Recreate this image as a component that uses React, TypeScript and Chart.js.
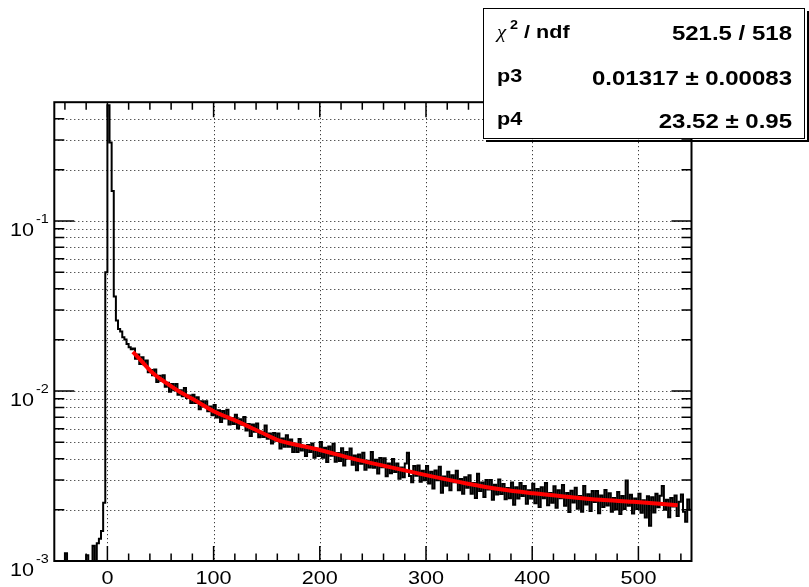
import React, { useEffect, useRef } from "react";
import { Chart, registerables } from "chart.js";

Chart.register(...registerables);

// ---- axis ranges ----
const X_MIN = -50;
const X_MAX = 550;
const Y_MIN = 0.001;
const Y_MAX = 0.5;
const HIST_START = -50;
const BIN_WIDTH = 2;

// ---- histogram contents (bin left edges from -50 in steps of 2) ----
const countsBelowZero = [
  0, 0, 0, 0, 0, 0.00111, 0, 0, 0, 0, 0, 0, 0, 0, 0, 0.00108, 0, 0, 0.00123, 0,
  0.00127, 0.00135, 0.0015, 0.0022, 0.05,
];
const countsPeak = [0.48, 0.29, 0.15, 0.036, 0.026, 0.0232, 0.0224, 0.0207, 0.0201, 0.0189, 0.0181, 0.0176];
const counts24to98 = [
  0.0178, 0.0155, 0.0164, 0.0144, 0.0158, 0.0143, 0.0151, 0.0129, 0.0133, 0.0124,
  0.0134, 0.0113, 0.0123, 0.0115, 0.0124, 0.0106, 0.0112, 0.0099, 0.011, 0.0101,
  0.011, 0.0095, 0.0101, 0.0093, 0.0104, 0.0091, 0.0094, 0.0085, 0.0095, 0.0085,
  0.0092, 0.0078, 0.0087, 0.0082, 0.0087, 0.0076, 0.0081, 0.0072,
];
const counts100to198 = [
  0.00828, 0.00698, 0.0077, 0.00657, 0.00763, 0.00689, 0.00777, 0.00635, 0.00694, 0.00639,
  0.00724, 0.00601, 0.00683, 0.00634, 0.00704, 0.00586, 0.00639, 0.00543, 0.00636, 0.00576,
  0.00643, 0.00534, 0.00576, 0.00536, 0.00627, 0.00523, 0.00562, 0.00491, 0.00567, 0.0051,
  0.00562, 0.00459, 0.00525, 0.0047, 0.0055, 0.0047, 0.00519, 0.00437, 0.0049, 0.00437,
  0.00522, 0.00447, 0.00465, 0.00414, 0.00482, 0.00437, 0.00491, 0.00405, 0.00458, 0.00414,
];
const counts200to298 = [
  0.00502, 0.00405, 0.00464, 0.00382, 0.00471, 0.00416, 0.0049, 0.00384, 0.00432, 0.00387,
  0.0046, 0.00365, 0.00437, 0.00401, 0.00459, 0.00368, 0.00417, 0.00342, 0.00423, 0.00373,
  0.00433, 0.00344, 0.00389, 0.00355, 0.00437, 0.00354, 0.00394, 0.00327, 0.00403, 0.00356,
  0.00402, 0.00315, 0.00374, 0.00328, 0.00398, 0.00334, 0.00375, 0.00305, 0.00355, 0.00311,
  0.00374, 0.00433, 0.00316, 0.00291, 0.00362, 0.00317, 0.00364, 0.00293, 0.0034, 0.00299,
];
const counts300to398 = [
  0.00362, 0.00286, 0.00335, 0.00267, 0.00341, 0.00299, 0.00358, 0.00252, 0.00314, 0.00277,
  0.00335, 0.00261, 0.00319, 0.00291, 0.00339, 0.00261, 0.00304, 0.00249, 0.00311, 0.0027,
  0.00319, 0.00249, 0.00288, 0.00235, 0.00326, 0.00258, 0.0029, 0.00238, 0.003, 0.00263,
  0.003, 0.00229, 0.00281, 0.00246, 0.00302, 0.00248, 0.00284, 0.00231, 0.00269, 0.00234,
  0.0029, 0.00214, 0.00272, 0.00233, 0.00288, 0.00241, 0.00276, 0.00217, 0.00261, 0.00233,
];
const counts400to548 = [
  0.00285, 0.00219, 0.00265, 0.00208, 0.00272, 0.00234, 0.00288, 0.00213, 0.00251, 0.0022,
  0.00275, 0.00206, 0.00261, 0.00234, 0.0028, 0.00211, 0.00251, 0.00194, 0.00259, 0.00221,
  0.0027, 0.00203, 0.00241, 0.00195, 0.00276, 0.00215, 0.00247, 0.00197, 0.00258, 0.00222,
  0.00258, 0.00191, 0.00243, 0.00208, 0.00262, 0.00212, 0.0025, 0.00195, 0.00235, 0.00201,
  0.00255, 0.00189, 0.00241, 0.00202, 0.00298, 0.00211, 0.00245, 0.0019, 0.00233, 0.00202,
  0.00249, 0.00192, 0.00228, 0.0018, 0.0024, 0.00161, 0.00237, 0.00193, 0.00249, 0.00207,
  0.00242, 0.00276, 0.002, 0.00229, 0.00181, 0.00235, 0.00209, 0.00243, 0.00184, 0.00223,
  0.00246, 0.00195, 0.0017, 0.0023, 0.002,
];

// ---- fit curve (red) ----
const fitX = [24, 30, 43, 55, 68, 80, 100, 123, 145, 162, 180, 200, 231, 263, 300, 338, 370, 401, 432, 464, 495, 537];
const fitY = [
  0.017, 0.0155, 0.0127, 0.0112, 0.0099, 0.009, 0.0076, 0.0066, 0.0057, 0.0051, 0.0048,
  0.0045, 0.004, 0.0036, 0.0032, 0.00286, 0.00264, 0.0025, 0.00239, 0.00229, 0.00223, 0.00213,
];

// ---- axis ticks ----
const xMajorTicks = [0, 100, 200, 300, 400, 500];
const xMajorLabels = ["0", "100", "200", "300", "400", "500"];
const xMinorStep = 20;
const yDecades = [0.001, 0.01, 0.1];
const yDecadeExponents = ["-3", "-2", "-1"];

// ---- stats box ----
const statNames = ["p3", "p4"];
const statValues = ["0.01317 \u00b1 0.00083", "23.52 \u00b1 0.95"];
const chi2Text = "521.5 / 518";

const FONT = '"Liberation Sans", Arial, Helvetica, sans-serif';

function drawStretched(
  ctx: CanvasRenderingContext2D,
  text: string,
  x: number,
  y: number,
  align: "left" | "center" | "right",
  sx: number
) {
  const w = ctx.measureText(text).width * sx;
  let left = x;
  if (align === "center") left = x - w / 2;
  if (align === "right") left = x - w;
  ctx.save();
  ctx.translate(left, y);
  ctx.scale(sx, 1);
  ctx.textAlign = "left";
  ctx.textBaseline = "alphabetic";
  ctx.fillText(text, 0, 0);
  ctx.restore();
}

const rootPlugin = {
  id: "rootStyle",
  beforeDatasetsDraw(chart: any) {
    const { ctx, chartArea: a, scales } = chart;
    const x = scales.x;
    const y = scales.y;
    ctx.save();
    ctx.strokeStyle = "#111";
    ctx.lineWidth = 1;
    ctx.setLineDash([1, 3]);
    for (const v of xMajorTicks) {
      const px = Math.round(x.getPixelForValue(v)) + 0.5;
      ctx.beginPath();
      ctx.moveTo(px, a.top);
      ctx.lineTo(px, a.bottom);
      ctx.stroke();
    }
    for (const d of yDecades) {
      for (let m = 1; m <= 9; m++) {
        const v = d * m;
        if (v <= Y_MIN * 1.0001 || v >= Y_MAX) continue;
        const py = Math.round(y.getPixelForValue(v)) + 0.5;
        ctx.beginPath();
        ctx.moveTo(a.left, py);
        ctx.lineTo(a.right, py);
        ctx.stroke();
      }
    }
    ctx.restore();
  },
  afterDatasetsDraw(chart: any) {
    const { ctx, chartArea: a, scales } = chart;
    const x = scales.x;
    const y = scales.y;
    ctx.save();
    ctx.strokeStyle = "#000";
    // ticks
    ctx.lineWidth = 1.5;
    ctx.beginPath();
    for (let v = -40; v <= X_MAX; v += xMinorStep) {
      const px = x.getPixelForValue(v);
      const len = v % 100 === 0 ? 15 : 7.5;
      ctx.moveTo(px, a.bottom);
      ctx.lineTo(px, a.bottom - len);
      ctx.moveTo(px, a.top);
      ctx.lineTo(px, a.top + len);
    }
    for (const d of yDecades) {
      for (let m = 1; m <= 9; m++) {
        const v = d * m;
        if (v >= Y_MAX) continue;
        const py = y.getPixelForValue(v);
        const len = m === 1 ? 20 : 10;
        ctx.moveTo(a.left, py);
        ctx.lineTo(a.left + len, py);
        ctx.moveTo(a.right, py);
        ctx.lineTo(a.right - len, py);
      }
    }
    ctx.stroke();
    // frame
    ctx.lineWidth = 2;
    ctx.strokeRect(a.left, a.top, a.right - a.left, a.bottom - a.top);

    // labels
    ctx.fillStyle = "#000";
    ctx.font = `18px ${FONT}`;
    xMajorTicks.forEach((v, i) => {
      drawStretched(ctx, xMajorLabels[i], x.getPixelForValue(v), 584, "center", 1.2);
    });
    yDecades.forEach((d, i) => {
      const py = y.getPixelForValue(d);
      ctx.font = `18px ${FONT}`;
      drawStretched(ctx, "10", 10, py + 14.5, "left", 1.2);
      ctx.font = `12px ${FONT}`;
      drawStretched(ctx, yDecadeExponents[i], 36, py + 2, "left", 1.2);
    });
    ctx.restore();
  },
  afterDraw(chart: any) {
    const { ctx } = chart;
    ctx.save();
    // shadow
    ctx.fillStyle = "#000";
    ctx.fillRect(486, 140, 323, 2);
    ctx.fillRect(807, 11, 2, 131);
    // box
    ctx.fillStyle = "#fff";
    ctx.fillRect(483, 8, 322, 131);
    ctx.strokeStyle = "#000";
    ctx.lineWidth = 1;
    ctx.strokeRect(483.5, 8.5, 321, 130);

    ctx.fillStyle = "#000";
    // chi2 / ndf
    ctx.font = `italic 19px "Liberation Serif", serif`;
    drawStretched(ctx, "\u03c7", 497, 37.5, "left", 1.1);
    ctx.font = `bold 12px ${FONT}`;
    drawStretched(ctx, "2", 510, 29, "left", 1.2);
    ctx.font = `bold 18px ${FONT}`;
    drawStretched(ctx, "/ ndf", 524, 37.5, "left", 1.2);
    ctx.font = `bold 20px ${FONT}`;
    drawStretched(ctx, chi2Text, 792, 40, "right", 1.2);

    const leftBase = [82, 125];
    const rightBase = [85, 128];
    statNames.forEach((n, i) => {
      ctx.font = `bold 18px ${FONT}`;
      drawStretched(ctx, n, 497, leftBase[i], "left", 1.2);
      ctx.font = `bold 20px ${FONT}`;
      drawStretched(ctx, statValues[i], 792, rightBase[i], "right", 1.2);
    });
    ctx.restore();
  },
};

export default function App() {
  const canvasRef = useRef<HTMLCanvasElement | null>(null);

  useEffect(() => {
    if (!canvasRef.current) return;
    const allCounts = [
      ...countsBelowZero,
      ...countsPeak,
      ...counts24to98,
      ...counts100to198,
      ...counts200to298,
      ...counts300to398,
      ...counts400to548,
    ];
    const histPts = allCounts.map((v, i) => ({
      x: HIST_START + i * BIN_WIDTH,
      y: v > 0 ? v : Y_MIN,
    }));
    histPts.push({ x: X_MAX, y: histPts[histPts.length - 1].y });
    const fitPts = fitX.map((xv, i) => ({ x: xv, y: fitY[i] }));

    const chart = new Chart(canvasRef.current, {
      type: "line",
      data: {
        datasets: [
          {
            label: "fit",
            data: fitPts,
            borderColor: "#ff0000",
            borderWidth: 4,
            pointRadius: 0,
            cubicInterpolationMode: "monotone",
            fill: false,
          },
          {
            label: "hist",
            data: histPts,
            borderColor: "#000000",
            borderWidth: 2,
            pointRadius: 0,
            stepped: true,
            fill: false,
          },
        ],
      },
      options: {
        responsive: false,
        animation: false,
        events: [],
        layout: { padding: { left: 54.3, top: 102.2, right: 117.5, bottom: 26 } },
        scales: {
          x: { type: "linear", min: X_MIN, max: X_MAX, display: false },
          y: { type: "logarithmic", min: Y_MIN, max: Y_MAX, display: false },
        },
        plugins: {
          legend: { display: false },
          tooltip: { enabled: false },
          title: { display: false },
        },
      },
      plugins: [rootPlugin],
    } as any);
    return () => chart.destroy();
  }, []);

  return (
    <div style={{ position: "fixed", left: 0, top: 0, width: 809, height: 587, background: "#fff" }}>
      <canvas ref={canvasRef} width={809} height={587} style={{ display: "block" }} />
    </div>
  );
}
